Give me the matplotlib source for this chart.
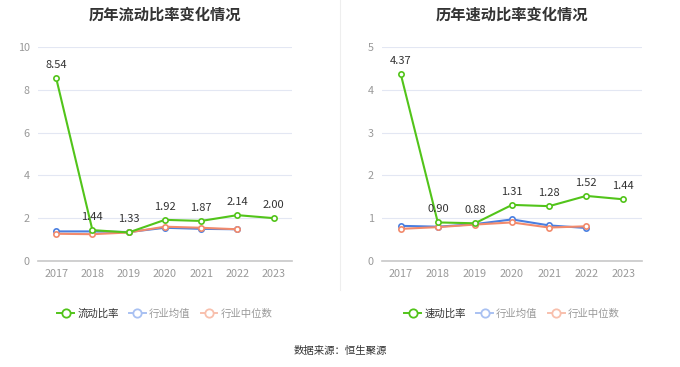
import matplotlib.pyplot as plt
from matplotlib.lines import Line2D

plt.rcParams['font.family'] = ['Noto Sans CJK SC', 'DejaVu Sans']

years = ["2017", "2018", "2019", "2020", "2021", "2022", "2023"]

current_ratio = [8.54, 1.44, 1.33, 1.92, 1.87, 2.14, 2.00]
current_avg = [1.38, 1.38, 1.35, 1.55, 1.50, 1.48]
current_median = [1.27, 1.25, 1.33, 1.60, 1.55, 1.48]

quick_ratio = [4.37, 0.90, 0.88, 1.31, 1.28, 1.52, 1.44]
quick_avg = [0.82, 0.80, 0.86, 0.97, 0.83, 0.77]
quick_median = [0.75, 0.79, 0.85, 0.90, 0.78, 0.81]

green = '#52c41a'
blue = '#4a7fe0'
orange = '#f28a6c'

fig = plt.figure(figsize=(6.8, 3.67), dpi=100)


def draw(ax, title, main, avg, med, ymax, ystep, name):
    x = list(range(len(years)))
    ax.plot(x[:len(avg)], avg, color=blue, lw=1.5, marker='o', ms=3.8,
            mfc='white', mec=blue, mew=1.2, zorder=3)
    ax.plot(x[:len(med)], med, color=orange, lw=1.5, marker='o', ms=3.8,
            mfc='white', mec=orange, mew=1.2, zorder=3)
    ax.plot(x, main, color=green, lw=1.5, marker='o', ms=3.8,
            mfc='white', mec=green, mew=1.2, zorder=4)
    for xi, v in zip(x, main):
        ax.annotate(f"{v:.2f}", (xi, v), xytext=(0, 6), textcoords='offset points',
                    ha='center', va='bottom', fontsize=8, color='#333333', zorder=5)
    ax.set_xlim(-0.5, len(years) - 0.5)
    ax.set_ylim(0, ymax)
    ax.set_yticks([i * ystep for i in range(int(ymax / ystep) + 1)])
    ax.set_xticks(x)
    ax.set_xticklabels(years)
    ax.tick_params(axis='both', length=0, labelsize=7.8, labelcolor='#999999', pad=6)
    ax.grid(axis='y', color='#e3e7f3', lw=0.8)
    ax.set_axisbelow(True)
    for s in ['top', 'right', 'left']:
        ax.spines[s].set_visible(False)
    ax.spines['bottom'].set_color('#c8c8c8')
    ax.spines['bottom'].set_linewidth(1.2)
    ax.set_title(title, fontsize=11, fontweight='bold', color='#333333', pad=20)

    handles = [
        Line2D([], [], color=green, lw=1.4, marker='o', ms=6, mfc='white', mec=green, mew=1.3),
        Line2D([], [], color='#a9c1f2', lw=1.4, marker='o', ms=6, mfc='white', mec='#a9c1f2', mew=1.3),
        Line2D([], [], color='#f8c0ad', lw=1.4, marker='o', ms=6, mfc='white', mec='#f8c0ad', mew=1.3),
    ]
    leg = ax.legend(handles, [name, "行业均值", "行业中位数"], loc='upper center',
                    bbox_to_anchor=(0.5, -0.18), ncol=3, frameon=False, fontsize=7.5,
                    handlelength=1.6, handletextpad=0.3, columnspacing=1.0)
    for t, c in zip(leg.get_texts(), ['#333333', '#999999', '#999999']):
        t.set_color(c)


ax1 = fig.add_axes([0.056, 0.289, 0.373, 0.583])
draw(ax1, "历年流动比率变化情况", current_ratio, current_avg, current_median, 10, 2, "流动比率")

ax2 = fig.add_axes([0.562, 0.289, 0.382, 0.583])
draw(ax2, "历年速动比率变化情况", quick_ratio, quick_avg, quick_median, 5, 1, "速动比率")

fig.add_artist(Line2D([0.5, 0.5], [1 - 290 / 367, 1.0], color='#eeeeee', lw=0.8))
fig.text(0.5, 1 - 351 / 367, "数据来源：恒生聚源", ha='center', va='center',
         fontsize=7.5, color='#333333')

fig.savefig('out.png', dpi=100)
